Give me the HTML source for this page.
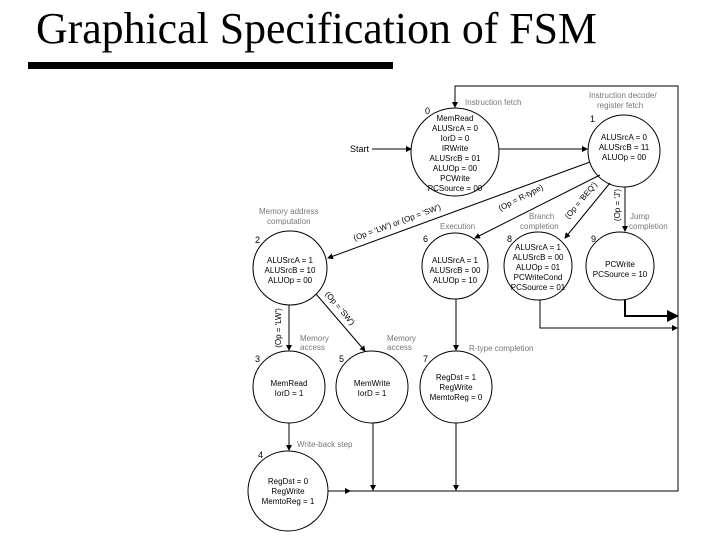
<!DOCTYPE html>
<html><head><meta charset="utf-8"><style>
html,body{margin:0;padding:0;background:#fff;}
svg{display:block;}
.t{font-family:"Liberation Sans",sans-serif;font-size:8px;fill:#000;text-anchor:middle;}
.g{font-family:"Liberation Sans",sans-serif;font-size:8px;fill:#777;}
.n{font-family:"Liberation Sans",sans-serif;font-size:9px;fill:#000;}
</style></head><body>
<svg width="720" height="540" viewBox="0 0 720 540" xmlns="http://www.w3.org/2000/svg">
<defs><marker id="a" markerWidth="6" markerHeight="6" refX="5" refY="3" orient="auto"><path d="M0,0 L6,3 L0,6 z" fill="#000"/></marker></defs>
<text x="36" y="43" font-family="Liberation Serif,serif" font-size="44" textLength="561" lengthAdjust="spacingAndGlyphs">Graphical Specification of FSM</text>
<rect x="28" y="62" width="365" height="7" fill="#000"/>
<g fill="none" stroke="#000" stroke-width="1">
<circle cx="455" cy="152" r="44"/>
<circle cx="624" cy="151" r="36"/>
<circle cx="290" cy="268" r="37"/>
<circle cx="455" cy="266" r="33"/>
<circle cx="538" cy="266" r="34"/>
<circle cx="620" cy="266" r="34"/>
<circle cx="289" cy="387" r="36"/>
<circle cx="372" cy="387" r="36"/>
<circle cx="456" cy="387" r="36"/>
<circle cx="288" cy="491" r="40"/>
<line x1="372" y1="149" x2="411" y2="149" marker-end="url(#a)"/>
<line x1="499" y1="149" x2="587" y2="149" marker-end="url(#a)"/>
<line x1="590" y1="162" x2="328" y2="258" marker-end="url(#a)"/>
<line x1="600" y1="175" x2="475" y2="238" marker-end="url(#a)"/>
<line x1="610" y1="183" x2="565" y2="238" marker-end="url(#a)"/>
<line x1="625" y1="187" x2="625" y2="231" marker-end="url(#a)"/>
<line x1="289" y1="305" x2="289" y2="350" marker-end="url(#a)"/>
<line x1="316" y1="294" x2="365" y2="351" marker-end="url(#a)"/>
<line x1="456" y1="299" x2="456" y2="350" marker-end="url(#a)"/>
<line x1="289" y1="423" x2="289" y2="450" marker-end="url(#a)"/>
<line x1="373" y1="423" x2="373" y2="490" marker-end="url(#a)"/>
<line x1="456" y1="423" x2="456" y2="490" marker-end="url(#a)"/>
<polyline points="328,491 678,491 678,86 455,86 455,107" marker-end="url(#a)"/>
<line x1="328" y1="491" x2="350" y2="491" marker-end="url(#a)"/>
<polyline points="540,300 540,328 677,328" marker-end="url(#a)"/>
<polyline points="625,300 625,316 677,316" stroke-width="2" marker-end="url(#a)"/>
</g>
<text class="n" x="350" y="152">Start</text>
<text class="n" x="425" y="114">0</text>
<text class="n" x="590" y="122">1</text>
<text class="n" x="255" y="243">2</text>
<text class="n" x="423" y="242">6</text>
<text class="n" x="507" y="242">8</text>
<text class="n" x="591" y="242">9</text>
<text class="n" x="255" y="362">3</text>
<text class="n" x="339" y="362">5</text>
<text class="n" x="423" y="362">7</text>
<text class="n" x="258" y="458">4</text>
<text class="g" x="465" y="105">Instruction fetch</text>
<text class="g" x="589" y="98">Instruction decode/</text>
<text class="g" x="597" y="108">register fetch</text>
<text class="g" x="259" y="214">Memory address</text>
<text class="g" x="267" y="224">computation</text>
<text class="g" x="440" y="229">Execution</text>
<text class="g" x="529" y="219">Branch</text>
<text class="g" x="520" y="229">completion</text>
<text class="g" x="630" y="219">Jump</text>
<text class="g" x="629" y="229">completion</text>
<text class="g" x="300" y="341">Memory</text>
<text class="g" x="300" y="350">access</text>
<text class="g" x="387" y="341">Memory</text>
<text class="g" x="387" y="350">access</text>
<text class="g" x="469" y="351">R-type completion</text>
<text class="g" x="297" y="447">Write-back step</text>
<g class="t">
<text x="455" y="121">MemRead</text><text x="455" y="131">ALUSrcA = 0</text><text x="455" y="141">IorD = 0</text><text x="455" y="151">IRWrite</text><text x="455" y="161">ALUSrcB = 01</text><text x="455" y="171">ALUOp = 00</text><text x="455" y="181">PCWrite</text><text x="455" y="191">PCSource = 00</text>
<text x="624" y="140">ALUSrcA = 0</text><text x="624" y="150">ALUSrcB = 11</text><text x="624" y="160">ALUOp = 00</text>
<text x="290" y="263">ALUSrcA = 1</text><text x="290" y="273">ALUSrcB = 10</text><text x="290" y="283">ALUOp = 00</text>
<text x="455" y="263">ALUSrcA = 1</text><text x="455" y="273">ALUSrcB = 00</text><text x="455" y="283">ALUOp = 10</text>
<text x="538" y="250">ALUSrcA = 1</text><text x="538" y="260">ALUSrcB = 00</text><text x="538" y="270">ALUOp = 01</text><text x="538" y="280">PCWriteCond</text><text x="538" y="290">PCSource = 01</text>
<text x="620" y="267">PCWrite</text><text x="620" y="277">PCSource = 10</text>
<text x="289" y="386">MemRead</text><text x="289" y="396">IorD = 1</text>
<text x="372" y="386">MemWrite</text><text x="372" y="396">IorD = 1</text>
<text x="456" y="380">RegDst = 1</text><text x="456" y="390">RegWrite</text><text x="456" y="400">MemtoReg = 0</text>
<text x="288" y="484">RegDst = 0</text><text x="288" y="494">RegWrite</text><text x="288" y="504">MemtoReg = 1</text>
<text transform="translate(398,225) rotate(-20)">(Op = 'LW') or (Op = 'SW')</text>
<text transform="translate(522,200) rotate(-27)">(Op = R-type)</text>
<text transform="translate(583,202) rotate(-50)">(Op = 'BEQ')</text>
<text transform="translate(620,205) rotate(-90)">(Op = 'J')</text>
<text transform="translate(281,328) rotate(-90)">(Op = 'LW')</text>
<text transform="translate(338,310) rotate(50)">(Op = 'SW')</text>
</g>
</svg>
</body></html>
